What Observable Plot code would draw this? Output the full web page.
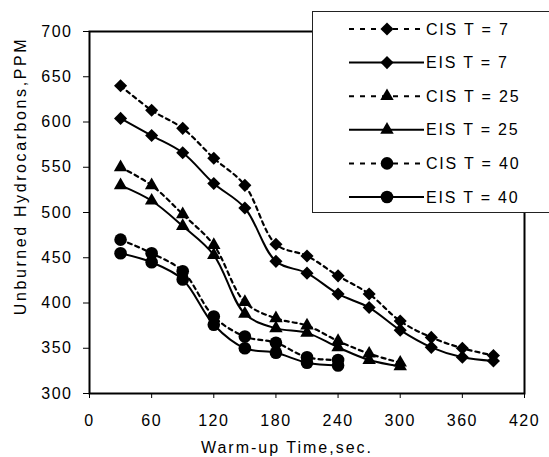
<!DOCTYPE html>
<html><head><meta charset="utf-8">
<script src="https://cdn.jsdelivr.net/npm/d3@7"></script>
<script src="https://cdn.jsdelivr.net/npm/@observablehq/plot@0.6"></script>
<style>
html,body{margin:0;padding:0;background:#fff;overflow:hidden;}
#chart{position:relative;width:549px;height:457px;overflow:hidden;}
#chart svg{font-family:"Liberation Sans",Arial,sans-serif;}
#chart svg text{letter-spacing:1.5px;}
</style></head><body><div id="chart"></div>
<script>
// Warm-up time (sec.) at which each series was sampled
const times = [30, 60, 90, 120, 150, 180, 210, 240, 270, 300, 330, 360, 390];
// Unburned hydrocarbons, PPM
const cisT7  = [640, 613, 593, 560, 530, 465, 452, 430, 410, 380, 362, 350, 342];
const eisT7  = [604, 585, 566, 532, 505, 446, 433, 410, 395, 370, 351, 340, 336];
const cisT25 = [550, 530, 498, 464, 401, 383, 375, 358, 344, 334];
const eisT25 = [530, 513, 485, 453, 388, 372, 367, 351, 337, 330];
const cisT40 = [470, 455, 435, 385, 363, 356, 340, 337];
const eisT40 = [455, 445, 426, 376, 350, 345, 334, 331];

const seriesNames = ["CIS T = 7", "EIS T = 7", "CIS T = 25", "EIS T = 25", "CIS T = 40", "EIS T = 40"];
const seriesValues = [cisT7, eisT7, cisT25, eisT25, cisT40, eisT40];
const seriesSymbols = ["diamond2", "diamond2", "triangle", "triangle", "circle", "circle"];
const seriesDashed = [true, false, true, false, true, false];

const xTicks = [0, 60, 120, 180, 240, 300, 360, 420];
const yTicks = [300, 350, 400, 450, 500, 550, 600, 650, 700];
const xLabel = "Warm-up Time,sec.";
const yLabel = "Unburned Hydrocarbons,PPM";

const rows = seriesNames.flatMap((name, i) =>
  seriesValues[i].map((v, j) => ({series: name, t: times[j], v, dashed: seriesDashed[i], symbol: seriesSymbols[i]})));

const symR = {diamond2: 5.9, triangle: 5.0, circle: 6.3};
const dash = "4,4";

const plot = Plot.plot({
  width: 549, height: 457,
  marginLeft: 89, marginRight: 25, marginTop: 31, marginBottom: 64,
  style: {fontSize: "16px", color: "black", background: "white"},
  x: {domain: [0, 420]},
  y: {domain: [300, 700]},
  marks: [
    Plot.axisX({ticks: xTicks, tickSize: 5, tickPadding: 16, label: null, fontSize: 16}),
    Plot.axisY({ticks: yTicks, tickSize: 6, tickPadding: 11, label: null, fontSize: 16}),
    Plot.line(rows.filter(d => d.dashed), {x: "t", y: "v", z: "series", curve: "catmull-rom", stroke: "black", strokeWidth: 2.2, strokeDasharray: dash}),
    Plot.line(rows.filter(d => !d.dashed), {x: "t", y: "v", z: "series", curve: "catmull-rom", stroke: "black", strokeWidth: 2}),
    ...Object.keys(symR).map(s => Plot.dot(rows.filter(d => d.symbol === s), {x: "t", y: "v", symbol: s, r: symR[s], fill: "black", stroke: "none"})),
    Plot.frame({stroke: "black", strokeWidth: 2})
  ]
});
document.getElementById("chart").appendChild(plot);

const svg = d3.select(plot);
// axis titles
svg.append("text").attr("x", 287).attr("y", 447).attr("dy", "0.35em")
  .attr("text-anchor", "middle").attr("font-size", 16).style("letter-spacing", "2px").text(xLabel);
svg.append("text").attr("transform", "translate(20,176) rotate(-90)").attr("dy", "0.35em")
  .attr("text-anchor", "middle").attr("font-size", 16).style("letter-spacing", "2.6px").text(yLabel);

// legend
const lg = svg.append("g");
lg.append("rect").attr("x", 312.5).attr("y", 11.5).attr("width", 260).attr("height", 201)
  .attr("fill", "white").attr("stroke", "#222").attr("stroke-width", 1);
const symMap = {diamond2: d3.symbolDiamond2, triangle: d3.symbolTriangle, circle: d3.symbolCircle};
seriesNames.forEach((name, i) => {
  const y = 29 + i * 33.6;
  lg.append("line").attr("x1", 349).attr("x2", 424).attr("y1", y).attr("y2", y)
    .attr("stroke", "black").attr("stroke-width", 2)
    .attr("stroke-dasharray", seriesDashed[i] ? "5,6" : null);
  const r = symR[seriesSymbols[i]];
  lg.append("path").attr("transform", `translate(387,${y})`)
    .attr("d", d3.symbol().type(symMap[seriesSymbols[i]]).size(Math.PI * r * r)()).attr("fill", "black");
  lg.append("text").attr("x", 426).attr("y", y).attr("dy", "0.35em").attr("font-size", 16)
    .attr("text-anchor", "start").style("letter-spacing", "1.8px").text(name);
});
</script></body></html>
